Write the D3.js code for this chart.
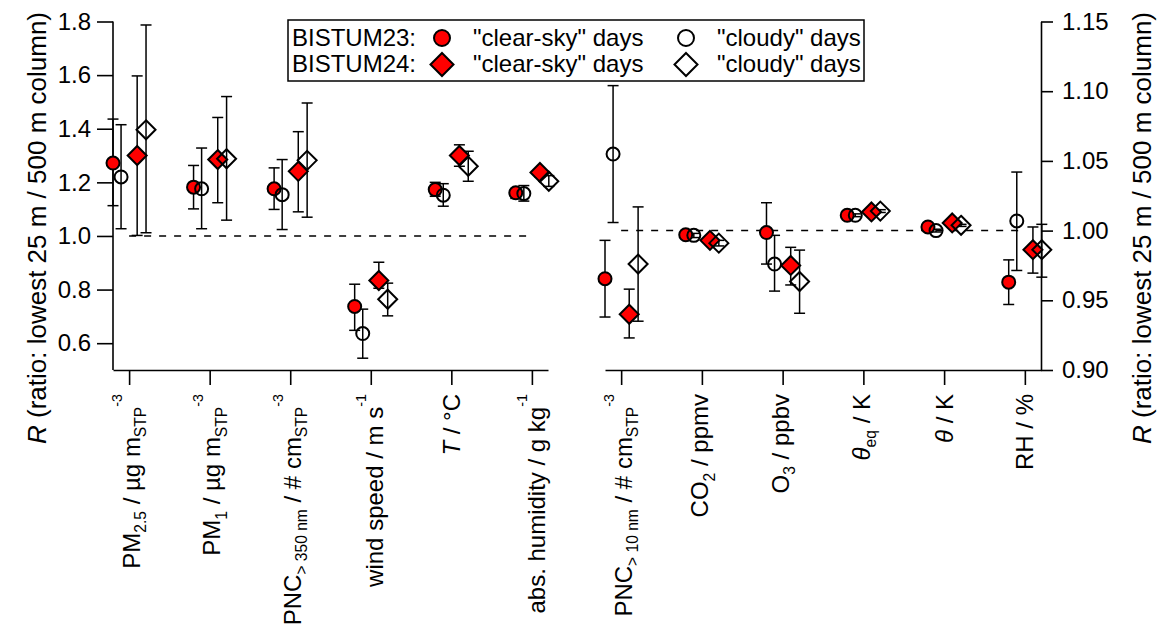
<!DOCTYPE html>
<html><head><meta charset="utf-8">
<script src="https://cdn.jsdelivr.net/npm/d3@7"></script>
<style>
body{margin:0;background:#fff}
svg{display:block}
text{font-family:"Liberation Sans",Arial,sans-serif;fill:#000}
</style>
</head><body>
<svg id="chart" width="1157" height="631"></svg>
<script>
// ---------------- DATA ----------------
// category labels: segments [text, kind] kind: n normal, i italic, sub, sup
const leftCategoryLabels = [
  [["PM","n"],["2.5","sub"],[" / µg m","n"],["STP","sub"],["-3","sup"]],
  [["PM","n"],["1","sub"],[" / µg m","n"],["STP","sub"],["-3","sup"]],
  [["PNC","n"],["> 350 nm","sub"],[" / # cm","n"],["STP","sub"],["-3","sup"]],
  [["wind speed / m s","n"],["-1","sup"]],
  [["T","i"],[" / °C","n"]],
  [["abs. humidity / g kg","n"],["-1","sup"]]
];
const rightCategoryLabels = [
  [["PNC","n"],["> 10 nm","sub"],[" / # cm","n"],["STP","sub"],["-3","sup"]],
  [["CO","n"],["2","sub"],[" / ppmv","n"]],
  [["O","n"],["3","sub"],[" / ppbv","n"]],
  [["θ","i"],["eq","sub"],[" / K","n"]],
  [["θ","i"],[" / K","n"]],
  [["RH / %","n"]]
];
const leftTicks = [0.6, 0.8, 1.0, 1.2, 1.4, 1.6, 1.8];
const rightTicks = [0.90, 0.95, 1.00, 1.05, 1.10, 1.15];

// left panel series (value, lower, upper)
const L_clear23 = [1.272, 1.182, 1.176, 0.737, 1.173, 1.161];
const L_clear23_lo = [1.113, 1.101, 1.099, 0.648, 1.148, 1.140];
const L_clear23_hi = [1.436, 1.263, 1.254, 0.820, 1.200, 1.173];
const L_cloudy23 = [1.220, 1.176, 1.154, 0.636, 1.152, 1.158];
const L_cloudy23_lo = [1.027, 1.027, 1.024, 0.544, 1.111, 1.130];
const L_cloudy23_hi = [1.415, 1.328, 1.285, 0.727, 1.195, 1.188];
const L_clear24 = [1.300, 1.285, 1.241, 0.834, 1.300, 1.237];
const L_clear24_lo = [1.002, 1.124, 1.090, 0.805, 1.260, 1.220];
const L_clear24_hi = [1.597, 1.442, 1.389, 0.902, 1.340, 1.250];
const L_cloudy24 = [1.396, 1.288, 1.282, 0.764, 1.260, 1.204];
const L_cloudy24_lo = [1.012, 1.059, 1.070, 0.702, 1.204, 1.185];
const L_cloudy24_hi = [1.787, 1.520, 1.496, 0.824, 1.316, 1.225];

// right panel series
const R_clear23 = [0.9655, 0.9970, 0.9986, 1.0110, 1.0026, 0.9630];
const R_clear23_lo = [0.9380, 0.9955, 0.9760, 1.0100, 1.0020, 0.9470];
const R_clear23_hi = [0.9930, 0.9985, 1.0200, 1.0120, 1.0030, 0.9790];
const R_cloudy23 = [1.0549, 0.9966, 0.9760, 1.0110, 1.0000, 1.0069];
const R_cloudy23_lo = [1.0058, 0.9950, 0.9566, 1.0100, 0.9990, 0.9714];
const R_cloudy23_hi = [1.1040, 0.9980, 0.9966, 1.0120, 1.0010, 1.0420];
const R_clear24 = [0.9400, 0.9930, 0.9750, 1.0134, 1.0055, 0.9863];
const R_clear24_lo = [0.9230, 0.9910, 0.9610, 1.0120, 1.0050, 0.9695];
const R_clear24_hi = [0.9580, 0.9950, 0.9880, 1.0150, 1.0060, 1.0026];
const R_cloudy24 = [0.9760, 0.9910, 0.9635, 1.0140, 1.0038, 0.9863];
const R_cloudy24_lo = [0.9350, 0.9890, 0.9407, 1.0130, 1.0030, 0.9666];
const R_cloudy24_hi = [1.0170, 0.9930, 0.9860, 1.0150, 1.0045, 1.0045];

const legendCampaigns = ["BISTUM23:", "BISTUM24:"];
const legendConditions = ["\"clear-sky\" days", "\"cloudy\" days"];
const yTitle = [["R","i"],[" (ratio: lowest 25 m / 500 m column)","n"]];

// ---------------- LAYOUT ----------------
const svg = d3.select("#chart");
const plotTop = 21.5, plotBottom = 370;
const FONT = 24, LABFONT = 24, TITLEFONT = 26;
const offsets = [-0.2, -0.1, 0.1, 0.21]; // within-category offsets (category units)

const xL = d3.scaleLinear().domain([-0.2, 5.2]).range([113, 548]);
const xR = d3.scaleLinear().domain([-0.2, 5.2]).range([605, 1041]);
const yL = d3.scaleLinear().domain([0.5, 1.8]).range([plotBottom, plotTop]);
const yR = d3.scaleLinear().domain([0.9, 1.15]).range([plotBottom, plotTop]);

function diamondPath(h){ // half-diagonal h
  return `M0,${-h}L${h},0L0,${h}L${-h},0Z`;
}

function addRich(sel, segs, baseSize){
  let cur = 0;
  const sizes = {n: baseSize, i: baseSize, sub: baseSize*0.65, sup: baseSize*0.6};
  const shifts = {n: 0, i: 0, sub: baseSize*0.27, sup: -baseSize*0.72};
  segs.forEach(([t,k])=>{
    const target = shifts[k];
    sel.append("tspan")
      .attr("dy", target - cur)
      .style("font-size", sizes[k] + "px")
      .style("font-style", k === "i" ? "italic" : "normal")
      .text(t);
    cur = target;
  });
}

// ----- axes -----
function styleAxis(g){
  g.selectAll("path.domain").attr("stroke","#000").attr("stroke-width",1.6);
  g.selectAll(".tick line").attr("stroke","#000").attr("stroke-width",1.6);
  g.selectAll(".tick text").style("font-size", FONT+"px")
    .style("font-family","'Liberation Sans',Arial,sans-serif").attr("fill","#000");
}

const gyL = svg.append("g").attr("transform",`translate(${xL.range()[0]},0)`)
  .call(d3.axisLeft(yL).tickValues(leftTicks).tickFormat(d3.format(".1f")).tickSize(16).tickSizeOuter(0).tickPadding(6));
styleAxis(gyL);
gyL.select("path.domain").attr("d", `M0,${yL(1.8)}V${plotBottom}`);

const gyR = svg.append("g").attr("transform",`translate(${xR.range()[1]},0)`)
  .call(d3.axisRight(yR).tickValues(rightTicks).tickFormat(d3.format(".2f")).tickSize(12).tickSizeOuter(0).tickPadding(9));
styleAxis(gyR);

function xAxis(scale, labels){
  const g = svg.append("g").attr("transform",`translate(0,${plotBottom})`)
    .call(d3.axisBottom(scale).tickValues(d3.range(labels.length)).tickFormat("").tickSize(15).tickSizeOuter(0));
  styleAxis(g);
  labels.forEach((segs,i)=>{
    const t = svg.append("text")
      .attr("text-anchor","end")
      .style("font-size", LABFONT+"px");
    addRich(t, segs, LABFONT);
    const bb = t.node().getBBox();
    const cx = scale(i) - (bb.y + bb.height/2);
    t.attr("transform", `translate(${cx},394) rotate(-90)`);
  });
}
xAxis(xL, leftCategoryLabels);
xAxis(xR, rightCategoryLabels);

// axis titles
function yTitleText(xBase){
  const t = svg.append("text").attr("text-anchor","middle").style("font-size", TITLEFONT+"px")
    .attr("transform", `translate(${xBase},228) rotate(-90)`);
  addRich(t, yTitle, TITLEFONT);
}
yTitleText(46);
yTitleText(1151);

// dashed reference lines at R = 1
svg.append("line").attr("x1", xL(0)).attr("x2", xL(5)).attr("y1", yL(1)).attr("y2", yL(1))
  .attr("stroke","#000").attr("stroke-width",1.5).attr("stroke-dasharray","7,8");
svg.append("line").attr("x1", xR(0)).attr("x2", xR(5)).attr("y1", yR(1)).attr("y2", yR(1))
  .attr("stroke","#000").attr("stroke-width",1.5).attr("stroke-dasharray","7,8");

// ----- series -----
const seriesStyles = [
  {shape:"circle", fill:"#ff0000"},
  {shape:"circle", fill:"none"},
  {shape:"diamond", fill:"#ff0000"},
  {shape:"diamond", fill:"none"}
];
const leftSeries = [
  [L_clear23, L_clear23_lo, L_clear23_hi],
  [L_cloudy23, L_cloudy23_lo, L_cloudy23_hi],
  [L_clear24, L_clear24_lo, L_clear24_hi],
  [L_cloudy24, L_cloudy24_lo, L_cloudy24_hi]
];
const rightSeries = [
  [R_clear23, R_clear23_lo, R_clear23_hi],
  [R_cloudy23, R_cloudy23_lo, R_cloudy23_hi],
  [R_clear24, R_clear24_lo, R_clear24_hi],
  [R_cloudy24, R_cloudy24_lo, R_cloudy24_hi]
];

function drawPanel(xs, ys, series){
  const cap = 5.5;
  const gErr = svg.append("g").attr("stroke","#000").attr("stroke-width",1.5);
  series.forEach((s,si)=>{
    const [v, lo, hi] = s;
    v.forEach((val,i)=>{
      const x = xs(i + offsets[si]);
      gErr.append("line").attr("x1",x).attr("x2",x).attr("y1",ys(lo[i])).attr("y2",ys(hi[i]));
      gErr.append("line").attr("x1",x-cap).attr("x2",x+cap).attr("y1",ys(lo[i])).attr("y2",ys(lo[i]));
      gErr.append("line").attr("x1",x-cap).attr("x2",x+cap).attr("y1",ys(hi[i])).attr("y2",ys(hi[i]));
    });
  });
  series.forEach((s,si)=>{
    const st = seriesStyles[si];
    const g = svg.append("g");
    s[0].forEach((val,i)=>{
      const x = xs(i + offsets[si]), y = ys(val);
      if(st.shape === "circle"){
        g.append("circle").attr("cx",x).attr("cy",y).attr("r",6.5)
          .attr("fill",st.fill).attr("stroke","#000").attr("stroke-width",2);
      } else {
        g.append("path").attr("d", diamondPath(9.5)).attr("transform",`translate(${x},${y})`)
          .attr("fill",st.fill).attr("stroke","#000").attr("stroke-width",2);
      }
    });
  });
}
drawPanel(xL, yL, leftSeries);
drawPanel(xR, yR, rightSeries);

// ----- legend -----
const lg = svg.append("g");
lg.append("rect").attr("x",288).attr("y",20).attr("width",576).attr("height",61)
  .attr("fill","#fff").attr("stroke","#000").attr("stroke-width",1.5);
const rowBase = [45.5, 72], rowMid = [38, 64.5];
legendCampaigns.forEach((c,ri)=>{
  lg.append("text").attr("x",292).attr("y",rowBase[ri]).style("font-size",FONT+"px").text(c);
  legendConditions.forEach((cond,ci)=>{
    const mx = ci === 0 ? 442 : 686;
    const st = seriesStyles[ri*2 + ci];
    if(st.shape === "circle"){
      lg.append("circle").attr("cx",mx).attr("cy",rowMid[ri]).attr("r",8)
        .attr("fill",st.fill === "none" ? "#fff" : st.fill).attr("stroke","#000").attr("stroke-width",2);
    } else {
      lg.append("path").attr("d",diamondPath(11.5)).attr("transform",`translate(${mx},${rowMid[ri]})`)
        .attr("fill",st.fill === "none" ? "#fff" : st.fill).attr("stroke","#000").attr("stroke-width",2);
    }
    lg.append("text").attr("x", ci === 0 ? 473 : 717).attr("y",rowBase[ri])
      .style("font-size",FONT+"px").text(cond);
  });
});
</script>
</body></html>
